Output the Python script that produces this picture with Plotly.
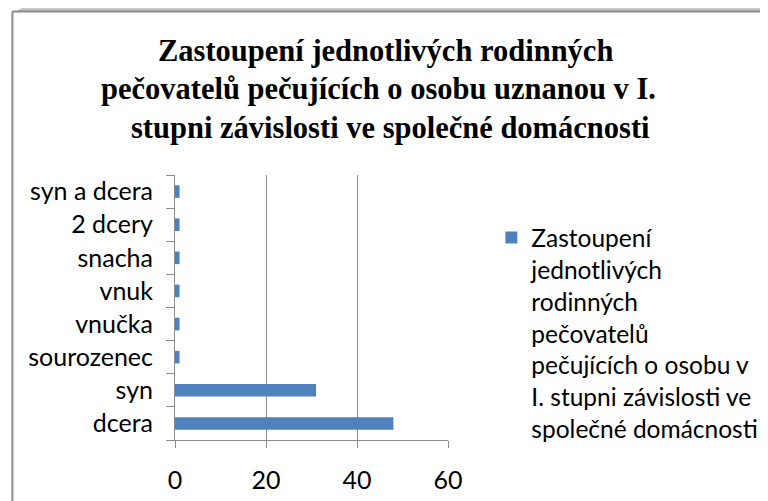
import plotly.graph_objects as go

categories = ["dcera", "syn", "sourozenec", "vnučka", "vnuk", "snacha", "2 dcery", "syn a dcera"]
values = [48, 31, 1, 1, 1, 1, 1, 1]
x_ticks = [0, 20, 40, 60]
title_lines = [
    "Zastoupení jednotlivých rodinných",
    "pečovatelů pečujících o osobu uznanou v I.",
    "stupni závislosti ve společné domácnosti",
]
series_name = "Zastoupení<br>jednotlivých<br>rodinných<br>pečovatelů<br>pečujících o osobu v<br>I. stupni závislosti ve<br>společné domácnosti"

W, H = 768, 501
OFF = 8  # page body margin in the browser
L, R, T, B = 175 - OFF, 452 - OFF, 175 - OFF, 440 - OFF

def px(xp):
    return (xp - OFF - L) / (R - L)

def py(yp):
    return (B - (yp - OFF)) / (B - T)

fig = go.Figure()
fig.add_trace(go.Bar(
    y=categories, x=values, orientation="h", name=series_name,
    marker=dict(color="#4F81BD", line=dict(width=0)),
    showlegend=True,
))

shapes = []
# shadow above top border
for i in range(12):
    g = int(250 - i * 6)
    shapes.append(dict(type="rect", xref="paper", yref="paper",
                       x0=px(14 + (11 - i) * 1.5), x1=px(W + 20), y0=py(i + 1), y1=py(i - 8 if i == 0 else i),
                       line=dict(width=0), fillcolor=f"rgb({g},{g},{g})", layer="below"))
# frame lines
shapes.append(dict(type="line", xref="paper", yref="paper",
                   x0=px(10), x1=px(W + 20), y0=py(11.5), y1=py(11.5),
                   line=dict(color="#8c8c8c", width=2)))
shapes.append(dict(type="line", xref="paper", yref="paper",
                   x0=px(10), x1=px(10), y0=py(11.5), y1=py(H + 20),
                   line=dict(color="#8c8c8c", width=2)))

title_cx = [389, 381, 394]
annotations = []
for i, line in enumerate(title_lines):
    annotations.append(dict(text=f"<b>{line}</b>", xref="paper", yref="paper",
                            x=px(title_cx[i]), y=py(51 + i * 38.5), xanchor="center", yanchor="middle",
                            showarrow=False,
                            font=dict(family="Liberation Serif", size=30.5, color="black")))

fig.update_layout(
    width=W, height=H,
    margin=dict(l=L, r=W - R, t=T, b=H - B, pad=0),
    paper_bgcolor="white", plot_bgcolor="white",
    bargap=0.62,
    shapes=shapes,
    annotations=annotations,
    font=dict(family="Lato", size=25, color="black"),
    legend=dict(x=px(496), y=py(215), xanchor="left", yanchor="top",
                valign="top", font=dict(family="Lato", size=24.5, color="black"),
                tracegroupgap=0, bgcolor="rgba(0,0,0,0)"),
    xaxis=dict(range=[0, 60], tickvals=x_ticks, showgrid=True, gridcolor="#8c8c8c", gridwidth=1,
               showline=True, linecolor="#8c8c8c", linewidth=1, ticks="outside", ticklen=7,
               tickcolor="#8c8c8c", zeroline=False, ticklabelstandoff=11,
               tickfont=dict(family="Lato", size=25)),
    yaxis=dict(categoryorder="array", categoryarray=categories, showline=True,
               linecolor="#8c8c8c", linewidth=1, ticks="outside", ticklen=8,
               tickcolor="#8c8c8c", tickson="boundaries", showgrid=False,
               ticklabelstandoff=16, tickfont=dict(family="Lato", size=25)),
)

fig.write_html("out.html")
